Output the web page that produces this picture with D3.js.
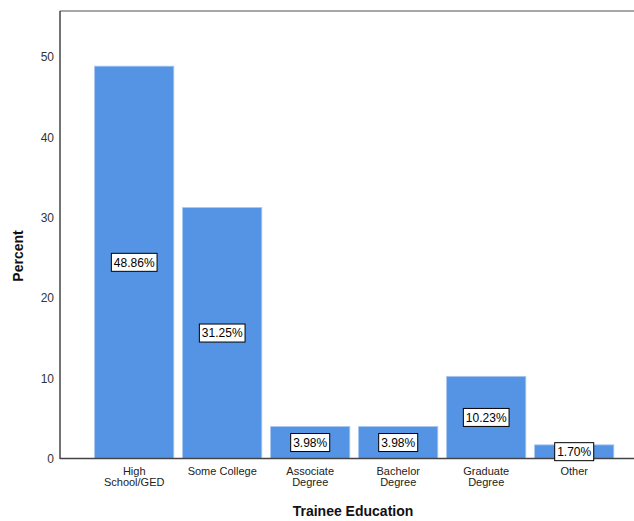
<!DOCTYPE html>
<html><head><meta charset="utf-8">
<script src="https://cdn.jsdelivr.net/npm/d3@7"></script>
<style>body{margin:0;background:#fff;}svg{display:block;font-family:"Liberation Sans",Arial,sans-serif;}</style>
</head><body>
<svg id="chart" width="634" height="521"></svg>
<script>
const categories = ["High School/GED","Some College","Associate Degree","Bachelor Degree","Graduate Degree","Other"];
const categoryLines = [["High","School/GED"],["Some College"],["Associate","Degree"],["Bachelor","Degree"],["Graduate","Degree"],["Other"]];
const percents = [48.86,31.25,3.98,3.98,10.23,1.70];
const yTicks = [0,10,20,30,40,50];

const svg = d3.select("#chart");
const plot = {left:60, top:11, right:640, bottom:458.5};
const x = d3.scaleBand().domain(categories).range([90.2,618.2]).paddingInner(0.1).paddingOuter(0.05);
const y = d3.scaleLinear().domain([0,50]).range([plot.bottom, 57]);

// frame (top)
svg.append("line").attr("x1",plot.left).attr("x2",plot.right).attr("y1",plot.top).attr("y2",plot.top)
  .attr("stroke","#8a8a8a").attr("stroke-width",1.5);

// bars
svg.selectAll("rect.bar").data(percents).join("rect").attr("class","bar")
  .attr("x",(d,i)=>x(categories[i])).attr("width",x.bandwidth())
  .attr("y",d=>y(d)).attr("height",d=>y(0)-y(d))
  .attr("fill","#5594e4").attr("stroke","#a9c8f0").attr("stroke-width",0.8);

// y axis
const yAxis = d3.axisLeft(y).tickValues(yTicks).tickSize(0).tickPadding(6).tickFormat(d3.format("d"));
const gy = svg.append("g").attr("transform",`translate(${plot.left},0)`).call(yAxis);
gy.select(".domain").remove();
gy.selectAll("text").attr("font-size",12).attr("fill","#333").attr("font-family","inherit");
svg.append("line").attr("x1",plot.left).attr("x2",plot.left).attr("y1",plot.top).attr("y2",plot.bottom+0.5)
  .attr("stroke","#444").attr("stroke-width",1.5);

// x axis
svg.append("line").attr("x1",plot.left).attr("x2",plot.right).attr("y1",plot.bottom).attr("y2",plot.bottom)
  .attr("stroke","#444").attr("stroke-width",1.5);
const xAxis = d3.axisBottom(x).tickSize(0).tickFormat("");
const gx = svg.append("g").attr("transform",`translate(0,${plot.bottom})`).call(xAxis);
gx.select(".domain").remove();
gx.selectAll(".tick").each(function(d,i){
  const t = d3.select(this).append("text").attr("fill","#222").attr("font-size",11).attr("text-anchor","middle");
  categoryLines[i].forEach((ln,j)=>{
    t.append("tspan").attr("x",0).attr("y",16.5+j*11).text(ln);
  });
});

// value labels
const lab = svg.selectAll("g.lab").data(percents).join("g").attr("class","lab")
  .attr("transform",(d,i)=>`translate(${x(categories[i])+x.bandwidth()/2},${(y(d)+y(0))/2})`);
lab.each(function(d){
  const g = d3.select(this);
  const t = g.append("text").attr("text-anchor","middle").attr("dy","0.36em").attr("font-size",12).attr("fill","#000")
    .text(d.toFixed(2)+"%");
  const w = t.node().getComputedTextLength();
  g.insert("rect","text").attr("x",-w/2-2.5).attr("y",-9).attr("width",w+5).attr("height",18)
    .attr("fill","#fff").attr("stroke","#000").attr("stroke-width",1);
});

// titles
svg.append("text").attr("transform","translate(23,256) rotate(-90)").attr("text-anchor","middle")
  .attr("font-size",14).attr("font-weight","bold").attr("fill","#111").text("Percent");
svg.append("text").attr("x",353).attr("y",516).attr("text-anchor","middle")
  .attr("font-size",14).attr("font-weight","bold").attr("fill","#111").text("Trainee Education");
</script>
</body></html>
